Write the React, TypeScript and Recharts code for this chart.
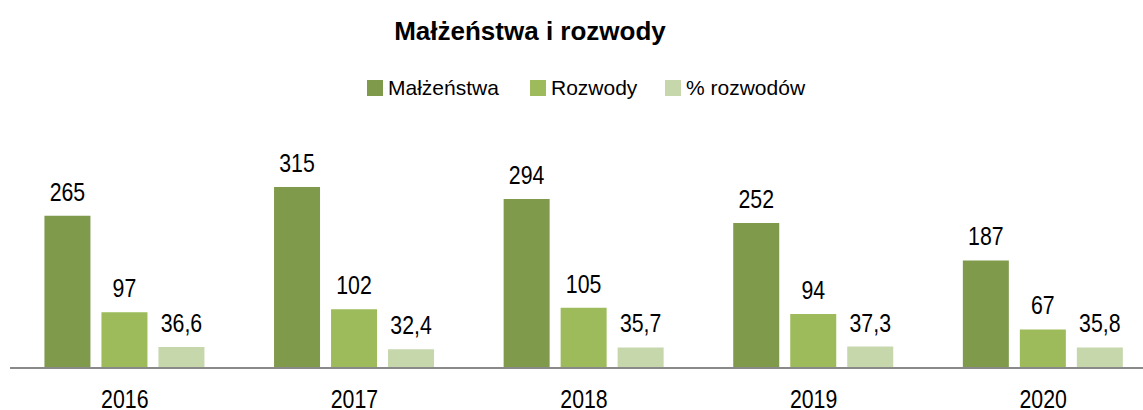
import { BarChart, Bar, XAxis, YAxis, LabelList } from "recharts";

const years = ["2016", "2017", "2018", "2019", "2020"];
const marriages = [265, 315, 294, 252, 187];
const divorces = [97, 102, 105, 94, 67];
const divorcePct = [36.6, 32.4, 35.7, 37.3, 35.8];

const series = [
  { key: "marriages", name: "Małżeństwa", color: "#7E9A4A" },
  { key: "divorces", name: "Rozwody", color: "#9DBB5A" },
  { key: "pct", name: "% rozwodów", color: "#C6D7AB" },
];

const data = years.map((year, i) => ({
  year,
  marriages: marriages[i],
  divorces: divorces[i],
  pct: divorcePct[i],
}));

// numbers in the source look condensed; no narrow font installed, so squeeze them
const FONT = '"Liberation Sans", Arial, sans-serif';
const SQUEEZE = 0.82;
const legendLeft = [367, 530, 665];

const fmt = (v: number) => String(v).replace(".", ",");

const YearTick = (props: any) => {
  const { x, y, payload } = props;
  return (
    <g transform={`translate(${x},${y}) scale(${SQUEEZE},1)`}>
      <text x={0} y={0} dy={18.5} textAnchor="middle" fill="#000" fontSize={26} fontFamily={FONT}>
        {payload.value}
      </text>
    </g>
  );
};

const ValueLabel = (props: any) => {
  const { x, y, width, value } = props;
  const cx = Number(x) + Number(width) / 2;
  const by = Number(y) - 15;
  return (
    <g transform={`translate(${cx},${by}) scale(${SQUEEZE},1)`}>
      <text x={0} y={0} textAnchor="middle" fill="#000" fontSize={26} fontFamily={FONT}>
        {fmt(value)}
      </text>
    </g>
  );
};

const App = () => {
  return (
    <div
      style={{
        position: "absolute",
        left: 0,
        top: 0,
        width: 1143,
        height: 410,
        overflow: "hidden",
        fontFamily: FONT,
        background: "#fff",
      }}
    >
      <div
        style={{
          position: "absolute",
          left: 330,
          top: 18,
          width: 400,
          textAlign: "center",
          fontSize: 26,
          fontWeight: "bold",
          lineHeight: 1,
          color: "#000",
        }}
      >
        Małżeństwa i rozwody
      </div>
      {series.map((s, i) => (
        <div
          key={s.key}
          style={{ position: "absolute", left: legendLeft[i], top: 77, whiteSpace: "nowrap" }}
        >
          <span
            style={{ position: "absolute", left: 0, top: 3, width: 16, height: 16, background: s.color }}
          />
          <span
            style={{
              position: "absolute",
              left: 21,
              top: 0,
              fontSize: 21,
              lineHeight: 1,
              color: "#000",
            }}
          >
            {s.name}
          </span>
        </div>
      ))}
      <div style={{ position: "absolute", left: 0, top: 0 }}>
        <BarChart
          width={1160}
          height={410}
          data={data}
          margin={{ top: 138, right: 2, left: 10, bottom: 0 }}
          barCategoryGap="15%"
          barGap={11}
        >
          <XAxis
            dataKey="year"
            height={42}
            tickLine={false}
            tickSize={0}
            tickMargin={21}
            axisLine={{ stroke: "#898989", strokeWidth: 2 }}
            tick={<YearTick />}
          />
          <YAxis hide domain={[0, 400]} />
          {series.map((s) => (
            <Bar key={s.key} dataKey={s.key} name={s.name} fill={s.color} isAnimationActive={false}>
              <LabelList dataKey={s.key} position="top" content={<ValueLabel />} />
            </Bar>
          ))}
        </BarChart>
      </div>
    </div>
  );
};

export default App;
